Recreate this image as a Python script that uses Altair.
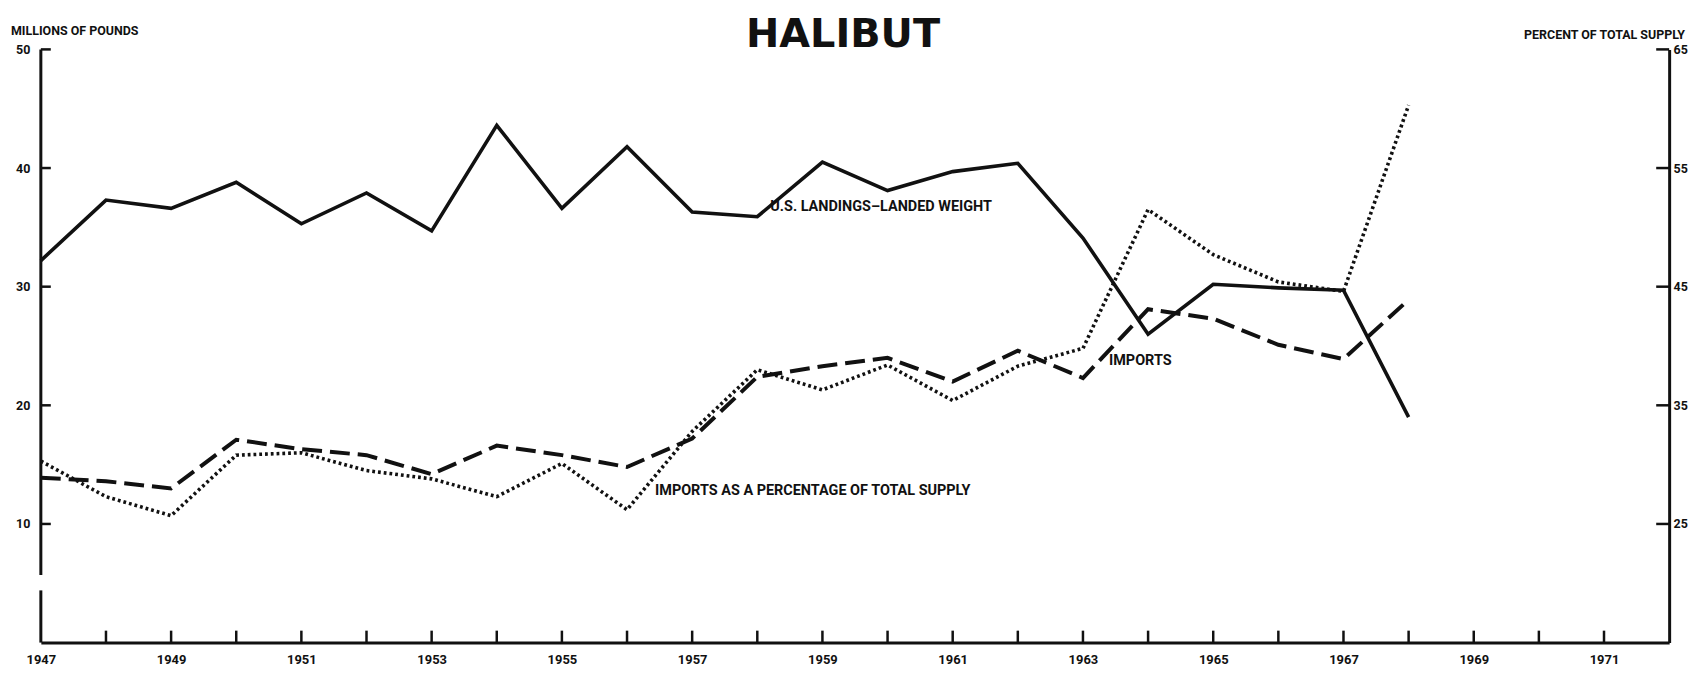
import altair as alt
import pandas as pd

# ---- data ----
years = list(range(1947, 1969))
landings = [32.2, 37.3, 36.6, 38.8, 35.3, 37.9, 34.7, 43.6, 36.6, 41.8, 36.3,
            35.9, 40.5, 38.1, 39.7, 40.4, 34.1, 26.0, 30.2, 29.9, 29.7, 19.0]
imports = [13.9, 13.6, 13.0, 17.1, 16.3, 15.8, 14.2, 16.6, 15.8, 14.8, 17.2,
           22.4, 23.3, 24.0, 22.0, 24.6, 22.3, 28.1, 27.3, 25.1, 23.9, 28.9]
import_pct = [30.3, 27.3, 25.7, 30.8, 31.0, 29.5, 28.8, 27.3, 30.1, 26.2, 32.8,
              38.0, 36.3, 38.4, 35.4, 38.3, 39.8, 51.5, 47.7, 45.4, 44.6, 60.3]

left_ticks = [10, 20, 30, 40, 50]
right_ticks = [25, 35, 45, 55, 65]
year_ticks = list(range(1948, 1972))
year_labels = list(range(1947, 1972, 2))

left_axis_lo = [0, 5.7]
left_axis_hi = [4.4, 50]

label_texts = ["U.S. LANDINGS\u2013LANDED WEIGHT", "IMPORTS AS A PERCENTAGE OF TOTAL SUPPLY", "IMPORTS"]
label_years = [1958.2, 1956.43, 1963.4]
label_vals = [36.7, 12.8, 23.7]

# ---- layout ----
W, H = 1636, 596
INK = "#111111"
FONT = "Roboto"

df = pd.DataFrame({"year": years, "landings": landings, "imports": imports, "pct": import_pct})
xs = alt.Scale(domain=[1947, 1972], nice=False, zero=False)
ys_left = alt.Scale(domain=[0, 50], nice=False, zero=False)
ys_right = alt.Scale(domain=[15, 65], nice=False, zero=False)

x_axis = alt.Axis(values=year_labels, format="d", ticks=False, domain=True, domainWidth=3,
                  domainColor=INK, labelPadding=11, labelFontSize=13, labelFontWeight="bold",
                  labelFont=FONT, labelColor=INK, labelFlush=False, labelOverlap=False,
                  grid=False, title="")
left_axis = alt.Axis(values=left_ticks, format="d", ticks=False, domain=False, labelPadding=11,
                     labelFontSize=12.5, labelFontWeight="bold", labelFont=FONT, labelColor=INK,
                     grid=False, title="")
right_axis = alt.Axis(orient="right", values=right_ticks, format="d", ticks=False, domain=True,
                      domainWidth=3, domainColor=INK, labelPadding=4, labelFontSize=12.5,
                      labelFontWeight="bold", labelFont=FONT, labelColor=INK, grid=False, title="")

base = alt.Chart(df)

solid = base.mark_line(color=INK, strokeWidth=3.6).encode(
    x=alt.X("year:Q", scale=xs, axis=x_axis),
    y=alt.Y("landings:Q", scale=ys_left, axis=left_axis),
)
dashed = base.mark_line(color=INK, strokeWidth=4, strokeDash=[20, 8]).encode(
    x=alt.X("year:Q", scale=xs, axis=x_axis),
    y=alt.Y("imports:Q", scale=ys_left, axis=left_axis),
)

seg_df = pd.DataFrame({"lo": left_axis_lo, "hi": left_axis_hi})
left_line = alt.Chart(seg_df).mark_rule(color=INK, strokeWidth=3).encode(
    x=alt.value(0),
    y=alt.Y("lo:Q", scale=ys_left, axis=left_axis),
    y2="hi:Q",
)
lt_df = pd.DataFrame({"v": left_ticks})
left_tick_marks = alt.Chart(lt_df).mark_rule(color=INK, strokeWidth=2.5).encode(
    y=alt.Y("v:Q", scale=ys_left, axis=left_axis),
    x=alt.value(0), x2=alt.value(10),
)
xt_df = pd.DataFrame({"yr": year_ticks})
x_tick_marks = alt.Chart(xt_df).mark_rule(color=INK, strokeWidth=2.5).encode(
    x=alt.X("yr:Q", scale=xs, axis=x_axis),
    y=alt.value(H), y2=alt.value(H - 12),
)
lab_df = pd.DataFrame({"year": label_years, "val": label_vals, "t": label_texts})
line_labels = alt.Chart(lab_df).mark_text(
    align="left", baseline="middle", font=FONT, fontSize=14.5, fontWeight="bold", color=INK
).encode(
    x=alt.X("year:Q", scale=xs, axis=x_axis),
    y=alt.Y("val:Q", scale=ys_left, axis=left_axis),
    text="t:N",
)

head_df = pd.DataFrame({"t": ["HALIBUT"]})
title_mark = alt.Chart(head_df).mark_text(
    align="center", baseline="alphabetic", font="DejaVu Sans", fontSize=40,
    fontWeight="bold", color=INK
).encode(x=alt.value(806), y=alt.value(-2), text="t:N")

lu_df = pd.DataFrame({"t": ["MILLIONS OF POUNDS"]})
left_unit = alt.Chart(lu_df).mark_text(
    align="left", baseline="alphabetic", font=FONT, fontSize=12.5, fontWeight="bold", color=INK
).encode(x=alt.value(-30), y=alt.value(-14), text="t:N")

ru_df = pd.DataFrame({"t": ["PERCENT OF TOTAL SUPPLY"]})
right_unit = alt.Chart(ru_df).mark_text(
    align="right", baseline="alphabetic", font=FONT, fontSize=12.5, fontWeight="bold", color=INK
).encode(x=alt.value(1652), y=alt.value(-10), text="t:N")

layer_left = alt.layer(solid, dashed, left_line, left_tick_marks, x_tick_marks,
                       line_labels, title_mark, left_unit, right_unit)

dotted = base.mark_line(color=INK, strokeWidth=3.6, strokeDash=[2.8, 3.0]).encode(
    x=alt.X("year:Q", scale=xs, axis=x_axis),
    y=alt.Y("pct:Q", scale=ys_right, axis=right_axis),
)
rt_df = pd.DataFrame({"v": right_ticks})
right_tick_marks = alt.Chart(rt_df).mark_rule(color=INK, strokeWidth=2.5).encode(
    y=alt.Y("v:Q", scale=ys_right, axis=right_axis),
    x=alt.value(W - 13), x2=alt.value(W),
)
layer_right = alt.layer(dotted, right_tick_marks)

chart = alt.layer(layer_left, layer_right).resolve_scale(y="independent").properties(
    width=W, height=H,
    autosize=alt.AutoSizeParams(type="none"),
    padding={"left": 33, "top": 40, "right": 30, "bottom": 39},
    background="white",
).configure_view(strokeWidth=0)

chart.save("out.html", embed_options={"renderer": "svg", "actions": False})
